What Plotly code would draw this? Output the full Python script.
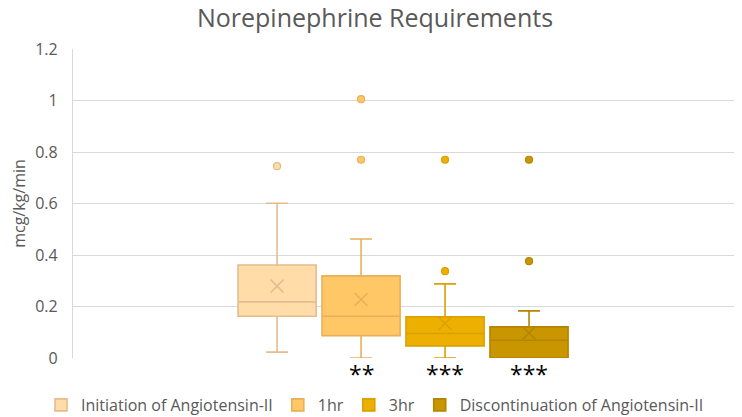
import plotly.graph_objects as go

# ---- data ----
series = ["Initiation of Angiotensin-II", "1hr", "3hr", "Discontinuation of Angiotensin-II"]
q1 = [0.162, 0.087, 0.047, 0.0]
median = [0.218, 0.162, 0.095, 0.069]
q3 = [0.361, 0.319, 0.160, 0.121]
lower_whisker = [0.023, 0.0, 0.0, 0.0]
upper_whisker = [0.601, 0.462, 0.288, 0.183]
means = [0.279, 0.227, 0.134, 0.097]
outliers = [[0.745], [1.005, 0.770], [0.337, 0.770], [0.376, 0.770]]
significance = ["", "**", "***", "***"]
y_ticks = [0, 0.2, 0.4, 0.6, 0.8, 1.0, 1.2]

# ---- styles ----
fills = ["#FFDCA8", "#FFC766", "#EDB000", "#C99600"]
lines = ["#E4BD8C", "#E8B05A", "#D9A000", "#B38500"]
text_color = "#595959"
grid_color = "#D9D9D9"
font_family = "Open Sans"

# the page body adds an 8px margin, so the figure is drawn 8px smaller
W, H = 734, 409

fig = go.Figure()

for i, name in enumerate(series):
    fig.add_trace(go.Box(
        name=name,
        x=[i],
        q1=[q1[i]], median=[median[i]], q3=[q3[i]],
        lowerfence=[lower_whisker[i]], upperfence=[upper_whisker[i]],
        fillcolor=fills[i],
        line=dict(color=lines[i], width=1.6),
        width=0.93,
        whiskerwidth=0.28,
        boxpoints=False,
        hoverinfo="skip",
    ))
    # mean marker (X)
    fig.add_trace(go.Scatter(
        x=[i], y=[means[i]], mode="markers",
        marker=dict(symbol="x-thin-open", size=13, color=lines[i],
                    line=dict(color=lines[i], width=1.6)),
        showlegend=False, hoverinfo="skip",
    ))
    # outliers
    fig.add_trace(go.Scatter(
        x=[i] * len(outliers[i]), y=outliers[i], mode="markers",
        marker=dict(symbol="circle", size=7, color=fills[i],
                    line=dict(color=lines[i], width=1.2)),
        showlegend=False, hoverinfo="skip",
    ))
    if significance[i]:
        fig.add_annotation(
            x=i, y=0, xref="x", yref="y",
            text=significance[i], showarrow=False,
            yanchor="top", yshift=2,
            font=dict(family=font_family, size=23, color="#000000"),
        )

fig.update_layout(
    width=W, height=H,
    margin=dict(l=65, r=3, t=41, b=59),
    paper_bgcolor="white", plot_bgcolor="white",
    font=dict(family=font_family, color=text_color),
    title=dict(text="Norepinephrine Requirements",
               x=0.5, xref="container", xanchor="center",
               y=1 - 10 / H, yref="container", yanchor="middle",
               font=dict(family=font_family, size=25, color=text_color)),
    showlegend=True,
    legend=dict(orientation="h", x=0.5, xref="container", xanchor="center",
                y=12 / H, yref="container", yanchor="middle",
                font=dict(family=font_family, size=16, color=text_color),
                itemwidth=30, tracegroupgap=0),
    boxmode="overlay",
)

fig.update_xaxes(range=[-2.43, 5.5], showticklabels=False, showgrid=False,
                 zeroline=False, showline=False, ticks="", automargin=False)
fig.update_yaxes(range=[0, 1.2], tickvals=y_ticks,
                 showgrid=True, gridcolor=grid_color, gridwidth=1.2,
                 zeroline=False, showline=True, linecolor=grid_color, linewidth=1.2,
                 ticks="", ticklabelstandoff=11, automargin=False,
                 tickfont=dict(family=font_family, size=16, color=text_color),
                 title=dict(text="mcg/kg/min", standoff=15,
                            font=dict(family=font_family, size=16, color=text_color)))

fig.write_html("out.html")
